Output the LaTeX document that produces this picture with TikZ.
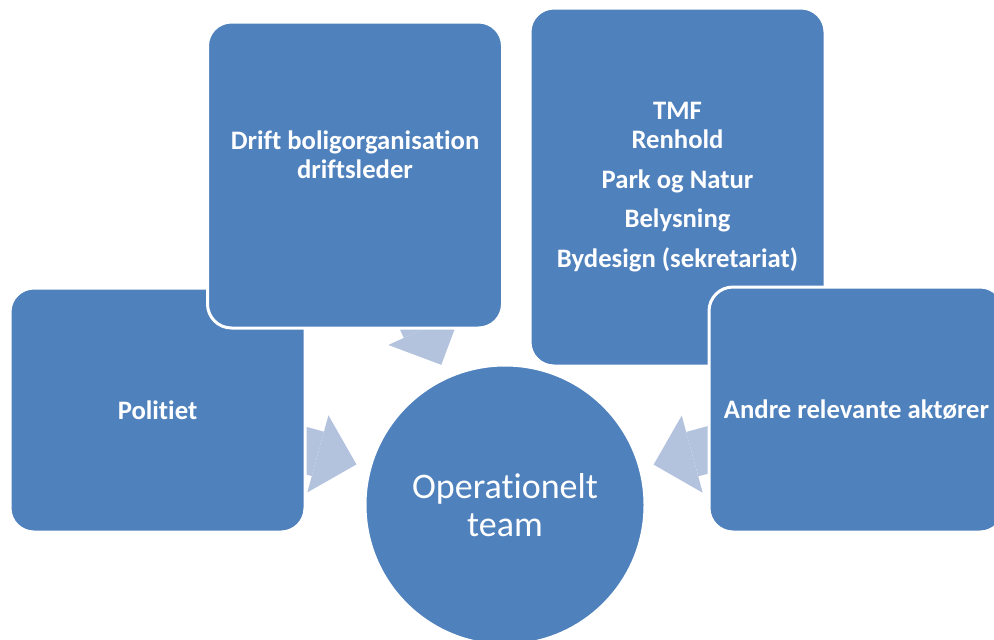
\documentclass[tikz,border=0pt]{standalone}
\usepackage{fontspec}
\setmainfont{Carlito}[Ligatures=NoCommon]
\usepackage{tikz}
\usetikzlibrary{arrows.meta, calc, backgrounds}
\definecolor{boxblue}{RGB}{79,129,189}
\definecolor{arrowblue}{RGB}{179,195,222}
\tikzstyle{boxtext} = [text=white, align=center, font=\fontsize{20}{22}\selectfont\bfseries]
\tikzstyle{actor} = [rectangle, rounded corners=18pt, minimum width=221.25pt, draw=white, line width=2.25pt, fill=boxblue, boxtext]
\tikzstyle{hub} = [circle, minimum size=210pt, draw=white, line width=2.25pt, fill=boxblue, text=white, align=center, font=\fontsize{27}{28}\selectfont]
\tikzstyle{spoke} = [draw=arrowblue, line width=34.5pt, -{Triangle[length=30pt, width=60pt, line width=0pt]}]

\begin{document}
\begin{tikzpicture}[x=0.75pt, y=-0.75pt]
            \useasboundingbox (0,0) rectangle (994,639);
            \clip (0,0) rectangle (994,639);
            \node (politi) [actor, minimum height=183pt] at (157.5,410) {Politiet};
            \node (drift) [actor, minimum height=229.5pt, label={[boxtext, yshift=15pt]center:{Drift boligorganisation\\driftsleder}}] at (355,175) {};
            \node (tmf) [actor, minimum height=268.5pt] at (677.5,187) {TMF\\Renhold\\[8pt]Park og Natur\\[7pt]Belysning\\[8pt]Bydesign (sekretariat)};
            \node (andre) [actor, minimum height=183.75pt] at (856.5,409.5) {Andre relevante aktører};
            \node (team) [hub] at (505,505) {Operationelt\\team};

            \begin{scope}[on background layer]
                \draw [spoke] (politi.center) -- ($(team.center)!115.5pt!(politi.center)$);
                \draw [spoke] (drift.center) -- ($(team.center)!115.5pt!(drift.center)$);
                \draw [spoke] (andre.center) -- ($(team.center)!115.5pt!(andre.center)$);
            \end{scope}
\end{tikzpicture}
\end{document}
